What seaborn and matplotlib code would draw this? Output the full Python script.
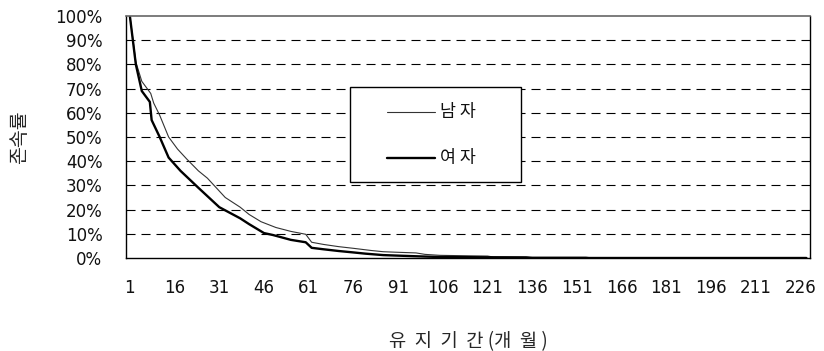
import matplotlib
matplotlib.use("Agg")
import matplotlib.pyplot as plt
import seaborn as sns
import pandas as pd
from matplotlib.patches import Rectangle
from matplotlib.lines import Line2D

# Survival rate (%) by months retained
male_months = [1, 3, 5, 8, 9, 11, 14, 17, 20, 24, 27, 30, 33, 38, 41, 45, 50, 55, 60, 62,
               66, 71, 76, 82, 86, 90, 97, 100, 105, 115, 121, 123, 134, 136, 154, 155, 228]
male_rate = [100, 81, 73, 68, 64, 59, 50, 45, 41, 36, 33, 29, 25, 21, 18, 15, 12.6, 11, 9.8, 6.5,
             5.6, 4.7, 4.0, 3.1, 2.6, 2.4, 2.1, 1.5, 1.1, 0.9, 0.8, 0.4, 0.3, 0.1, 0.1, 0, 0]

female_months = [1, 3, 5, 7.7, 8.3, 11, 14, 18, 24, 31, 38, 41, 46, 49, 55, 60, 62,
                 66, 71, 76, 80, 86, 95, 105, 121, 134, 136, 154, 155, 228]
female_rate = [100, 80, 69, 64.5, 57, 50, 41.5, 36, 29, 21, 16.4, 14, 10.3, 9.5, 7.5, 6.5, 4.2,
               3.6, 2.9, 2.3, 1.8, 1.2, 0.8, 0.4, 0.3, 0.25, 0.1, 0.1, 0, 0]

x_ticks = list(range(1, 227, 15))
y_ticks = list(range(0, 101, 10))
labels = ["남 자", "여 자"]
colors = {labels[0]: "#333333", labels[1]: "#000000"}
widths = {labels[0]: 0.8, labels[1]: 1.7}

df = pd.concat([
    pd.DataFrame({"month": male_months, "rate": male_rate, "sex": labels[0]}),
    pd.DataFrame({"month": female_months, "rate": female_rate, "sex": labels[1]}),
])

sns.set_style("white")
plt.rcParams["font.family"] = ["DejaVu Sans", "Noto Sans CJK KR"]
plt.rcParams["lines.scale_dashes"] = False
KR = ["Noto Sans CJK KR", "DejaVu Sans"]

fig = plt.figure(figsize=(8.24, 3.51), dpi=100)
ax = fig.add_axes([126/824, 1-258/351, (810-126)/824, (258-16)/351])

sns.lineplot(data=df, x="month", y="rate", hue="sex", size="sex",
             sizes=widths, palette=colors,
             ax=ax, legend=False, estimator=None, sort=False)

ax.set_xlim(-0.3, 229.2)
ax.set_ylim(0, 100)
ax.set_xticks(x_ticks)
ax.set_xticklabels([str(t) for t in x_ticks])
ax.set_yticks(y_ticks)
ax.set_yticklabels([f"{t}%" for t in y_ticks])
ax.tick_params(axis="both", length=0, labelsize=12, colors="#111111")
ax.tick_params(axis="x", pad=15)
ax.tick_params(axis="y", pad=17)

for v in y_ticks[1:-1]:
    ax.axhline(v, color="black", lw=0.8, ls=(0, (6.5, 4.3)), zorder=0)

for s in ["left", "bottom", "right"]:
    ax.spines[s].set_color("black")
    ax.spines[s].set_linewidth(1.0)
ax.spines["top"].set_color("#666666")
ax.spines["top"].set_linewidth(1.2)

ax.set_xlabel("유  지  기  간 (개  월 )", family=KR, fontsize=13.5, labelpad=25)
ax.set_ylabel("존속률", family=KR, fontsize=14, labelpad=18)

# legend box
tr = ax.transAxes
ax.add_patch(Rectangle((0.3275, 0.314), 0.25, 0.3926, transform=tr, facecolor="white",
                       edgecolor="black", lw=1.0, zorder=5))
for lab, yy in zip(labels, [0.602, 0.412]):
    ax.add_line(Line2D([0.3816, 0.4518], [yy, yy], transform=tr, color=colors[lab],
                       lw=widths[lab], zorder=6))
    ax.text(0.459, yy, lab, transform=tr, family=KR, fontsize=12.5, va="center",
            ha="left", color="#111111", zorder=6)

fig.savefig("out.png", dpi=100)
